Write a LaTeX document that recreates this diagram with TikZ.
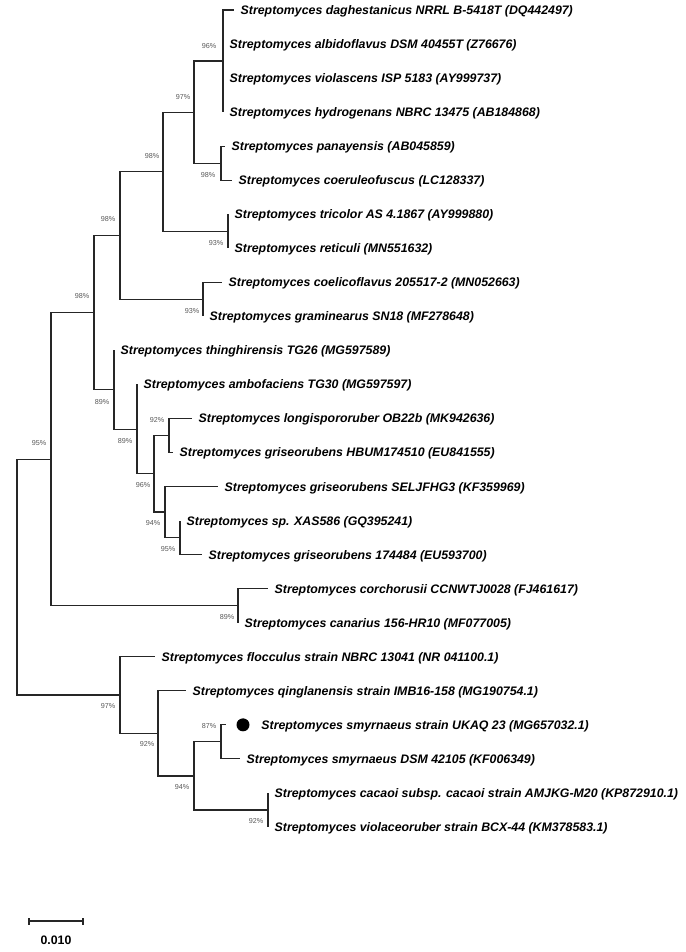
\documentclass[tikz,border=0pt]{standalone}
\usepackage{fontspec}
\setmainfont{Liberation Sans}
\begin{document}
\begin{tikzpicture}[x=1pt,y=-1pt,
  br/.style={line width=1.2pt, draw=black!85},
  taxon/.style={anchor=west, inner xsep=6.5pt, inner ysep=0pt, text height=8.9pt, text depth=0pt, font=\fontsize{12.35}{14}\selectfont\bfseries\itshape},
  boot/.style={inner sep=0pt, font=\fontsize{7.2}{8}\selectfont, text=black!65},
  scalebar/.style={line width=1.9pt, draw=black!85},
  tick/.style={line width=1.3pt, draw=black!85}]
\useasboundingbox (0,0) rectangle (685,952);
% leaf tips
\coordinate (t0) at (234,10);
\coordinate (t1) at (223,44.04);
\coordinate (t2) at (223,78.08);
\coordinate (t3) at (223,112.12);
\coordinate (t4) at (225,146.16);
\coordinate (t5) at (232,180.2);
\coordinate (t6) at (228,214.24);
\coordinate (t7) at (228,248.28);
\coordinate (t8) at (222,282.32);
\coordinate (t9) at (203,316.36);
\coordinate (t10) at (114,350.4);
\coordinate (t11) at (137,384.44);
\coordinate (t12) at (192,418.48);
\coordinate (t13) at (173,452.52);
\coordinate (t14) at (218,486.56);
\coordinate (t15) at (180,520.6);
\coordinate (t16) at (202,554.64);
\coordinate (t17) at (268,588.68);
\coordinate (t18) at (238,622.72);
\coordinate (t19) at (155,656.76);
\coordinate (t20) at (186,690.8);
\coordinate (t21) at (226,724.84);
\coordinate (t22) at (240,758.88);
\coordinate (t23) at (268,792.92);
\coordinate (t24) at (268,826.96);
% internal nodes
\coordinate (A) at (223,61.06);
\coordinate (B) at (221,163.18);
\coordinate (C) at (194,112.12);
\coordinate (D) at (228,231.26);
\coordinate (U) at (163,171.69);
\coordinate (F) at (203,299.34);
\coordinate (E) at (120,235.52);
\coordinate (J) at (169,435.5);
\coordinate (L) at (180,537.62);
\coordinate (K) at (165,512.09);
\coordinate (I) at (154,473.8);
\coordinate (H) at (137,429.12);
\coordinate (G) at (114,389.76);
\coordinate (M) at (94,312.64);
\coordinate (N) at (238,605.7);
\coordinate (O) at (51,459.17);
\coordinate (P) at (221,741.86);
\coordinate (Q) at (268,809.94);
\coordinate (R) at (194,775.9);
\coordinate (S) at (158,733.35);
\coordinate (T) at (120,695.06);
\coordinate (root) at (17,577.1);
% branches
\draw[br] (A) |- (t0) (A) |- (t1) (A) |- (t2) (A) |- (t3);
\draw[br] (B) |- (t4) (B) |- (t5);
\draw[br] (C) |- (A) (C) |- (B);
\draw[br] (D) |- (t6) (D) |- (t7);
\draw[br] (U) |- (C) (U) |- (D);
\draw[br] (F) |- (t8) (F) |- (t9);
\draw[br] (E) |- (U) (E) |- (F);
\draw[br] (J) |- (t12) (J) |- (t13);
\draw[br] (L) |- (t15) (L) |- (t16);
\draw[br] (K) |- (t14) (K) |- (L);
\draw[br] (I) |- (J) (I) |- (K);
\draw[br] (H) |- (t11) (H) |- (I);
\draw[br] (G) |- (t10) (G) |- (H);
\draw[br] (M) |- (E) (M) |- (G);
\draw[br] (N) |- (t17) (N) |- (t18);
\draw[br] (O) |- (M) (O) |- (N);
\draw[br] (P) |- (t21) (P) |- (t22);
\draw[br] (Q) |- (t23) (Q) |- (t24);
\draw[br] (R) |- (P) (R) |- (Q);
\draw[br] (S) |- (t20) (S) |- (R);
\draw[br] (T) |- (t19) (T) |- (S);
\draw[br] (root) |- (O) (root) |- (T);
% taxa
\node[taxon] (n0) at (t0) {Streptomyces daghestanicus NRRL B-5418T (DQ442497)};
\node[taxon] (n1) at (t1) {Streptomyces albidoflavus DSM 40455T (Z76676)};
\node[taxon] (n2) at (t2) {Streptomyces violascens ISP 5183 (AY999737)};
\node[taxon] (n3) at (t3) {Streptomyces hydrogenans NBRC 13475 (AB184868)};
\node[taxon] (n4) at (t4) {Streptomyces panayensis (AB045859)};
\node[taxon] (n5) at (t5) {Streptomyces coeruleofuscus (LC128337)};
\node[taxon] (n6) at (t6) {Streptomyces tricolor AS 4.1867 (AY999880)};
\node[taxon] (n7) at (t7) {Streptomyces reticuli (MN551632)};
\node[taxon] (n8) at (t8) {Streptomyces coelicoflavus 205517-2 (MN052663)};
\node[taxon] (n9) at (t9) {Streptomyces graminearus SN18 (MF278648)};
\node[taxon] (n10) at (t10) {Streptomyces thinghirensis TG26 (MG597589)};
\node[taxon] (n11) at (t11) {Streptomyces ambofaciens TG30 (MG597597)};
\node[taxon] (n12) at (t12) {Streptomyces longispororuber OB22b (MK942636)};
\node[taxon] (n13) at (t13) {Streptomyces griseorubens HBUM174510 (EU841555)};
\node[taxon] (n14) at (t14) {Streptomyces griseorubens SELJFHG3 (KF359969)};
\node[taxon] (n15) at (t15) {Streptomyces sp. XAS586 (GQ395241)};
\node[taxon] (n16) at (t16) {Streptomyces griseorubens 174484 (EU593700)};
\node[taxon] (n17) at (t17) {Streptomyces corchorusii CCNWTJ0028 (FJ461617)};
\node[taxon] (n18) at (t18) {Streptomyces canarius 156-HR10 (MF077005)};
\node[taxon] (n19) at (t19) {Streptomyces flocculus strain NBRC 13041 (NR 041100.1)};
\node[taxon] (n20) at (t20) {Streptomyces qinglanensis strain IMB16-158 (MG190754.1)};
\node[circle, fill=black, inner sep=0pt, minimum size=13pt] (dot) at (243,724.84) {};
\node[taxon, inner xsep=11.5pt] (n21) at (dot.east) {Streptomyces smyrnaeus strain UKAQ 23 (MG657032.1)};
\node[taxon] (n22) at (t22) {Streptomyces smyrnaeus DSM 42105 (KF006349)};
\node[taxon] (n23) at (t23) {Streptomyces cacaoi subsp. cacaoi strain AMJKG-M20 (KP872910.1)};
\node[taxon] (n24) at (t24) {Streptomyces violaceoruber strain BCX-44 (KM378583.1)};
% bootstrap values
\node[boot] (bA) at (209,46) {96\%};
\node[boot] (bC) at (183,97) {97\%};
\node[boot] (bU) at (152,156) {98\%};
\node[boot] (bB) at (208,175) {98\%};
\node[boot] (bD) at (216,243) {93\%};
\node[boot] (bE) at (108,219) {98\%};
\node[boot] (bF) at (192,311) {93\%};
\node[boot] (bM) at (82,296) {98\%};
\node[boot] (bG) at (102,402) {89\%};
\node[boot] (bH) at (125,441) {89\%};
\node[boot] (bJ) at (157,420) {92\%};
\node[boot] (bI) at (143,485) {96\%};
\node[boot] (bK) at (153,523) {94\%};
\node[boot] (bL) at (168,549) {95\%};
\node[boot] (bO) at (39,443) {95\%};
\node[boot] (bN) at (227,617) {89\%};
\node[boot] (bT) at (108,706) {97\%};
\node[boot] (bS) at (147,744) {92\%};
\node[boot] (bP) at (209,726) {87\%};
\node[boot] (bR) at (182,787) {94\%};
\node[boot] (bQ) at (256,821) {92\%};
% scale bar
\coordinate (sb1) at (29,921);
\coordinate (sb2) at (83,921);
\draw[scalebar] (sb1) -- (sb2);
\draw[tick] ([yshift=-3.5pt]sb1) -- ([yshift=3.5pt]sb1);
\draw[tick] ([yshift=-3.5pt]sb2) -- ([yshift=3.5pt]sb2);
\node[font=\fontsize{12.3}{14}\selectfont\bfseries, inner sep=0pt] (sbl) at (56,940) {0.010};
\end{tikzpicture}
\end{document}
